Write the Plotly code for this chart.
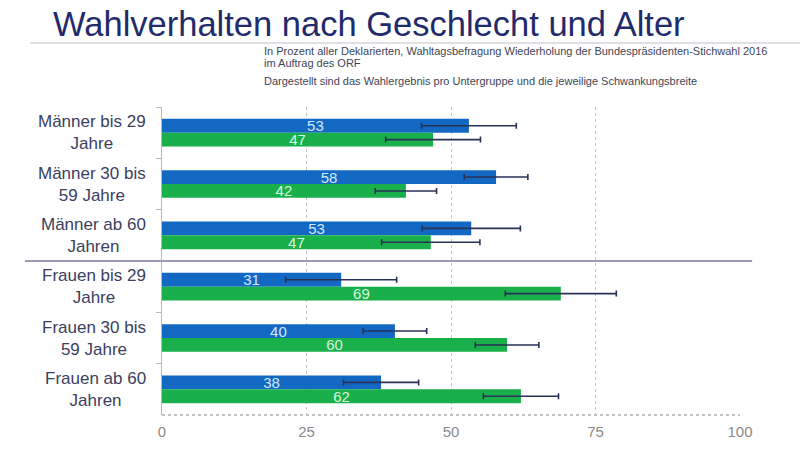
import plotly.graph_objects as go

categories = [
    "Männer bis 29<br>Jahre",
    "Männer 30 bis<br>59 Jahre",
    "Männer ab 60<br>Jahren",
    "Frauen bis 29<br>Jahre",
    "Frauen 30 bis<br>59 Jahre",
    "Frauen ab 60<br>Jahren",
]
blue_values = [53.1, 57.8, 53.5, 31.0, 40.3, 37.9]
green_values = [46.9, 42.2, 46.5, 69.0, 59.7, 62.1]
blue_labels = ["53", "58", "53", "31", "40", "38"]
green_labels = ["47", "42", "47", "69", "60", "62"]
blue_err = [8.2, 5.5, 8.5, 9.6, 5.5, 6.5]
green_err = [8.2, 5.3, 8.5, 9.6, 5.5, 6.5]
x_ticks = [0, 25, 50, 75, 100]

FONT = "Liberation Sans, Arial, sans-serif"
BLUE = "#1268c2"
GREEN = "#19b04b"
ERR = "#2a3157"

fig = go.Figure()
fig.add_trace(go.Bar(
    y=categories, x=blue_values, orientation="h", marker=dict(color=BLUE, line=dict(width=0)),
    text=blue_labels, textposition="inside", insidetextanchor="middle", textangle=0,
    textfont=dict(color="#d2e8ff", size=15, family=FONT),
    error_x=dict(type="data", array=blue_err, color=ERR, thickness=1.6, width=3),
    showlegend=False,
))
fig.add_trace(go.Bar(
    y=categories, x=green_values, orientation="h", marker=dict(color=GREEN, line=dict(width=0)),
    text=green_labels, textposition="inside", insidetextanchor="middle", textangle=0,
    textfont=dict(color="#d6f6dd", size=15, family=FONT),
    error_x=dict(type="data", array=green_err, color=ERR, thickness=1.6, width=3),
    showlegend=False,
))

label_annotations = [
    dict(text=c, xref="paper", yref="y", x=-0.024, y=c, xanchor="right", yanchor="middle",
         align="center", showarrow=False, font=dict(size=17, color="#3b4060", family=FONT))
    for c in categories
]

fig.update_layout(
    width=800, height=452,
    margin=dict(l=162, r=60, t=107, b=31),
    paper_bgcolor="white", plot_bgcolor="white",
    barmode="group", bargap=0.46, bargroupgap=0,
    uniformtext=dict(minsize=15, mode="show"),
    font=dict(family=FONT),
    xaxis=dict(
        range=[0, 100], tickvals=x_ticks, showgrid=True, griddash="dot",
        gridcolor="#c4c4c4", gridwidth=1, zeroline=False, showline=False,
        tickfont=dict(size=15, color="#8a8a8a", family=FONT), ticks="", ticklabelstandoff=6,
    ),
    yaxis=dict(
        type="category", autorange="reversed", showgrid=False, zeroline=False,
        showline=True, linecolor="#b8b8b8", linewidth=1, showticklabels=False,
        ticks="outside", tickson="boundaries", ticklen=5, tickcolor="#b8b8b8",
    ),
    shapes=[
        dict(type="line", xref="x", yref="paper", x0=0, x1=100, y0=0, y1=0,
             line=dict(color="#b0b0b0", width=1.5, dash="dot")),
        dict(type="line", xref="paper", yref="y", x0=-0.237, x1=1.021, y0=2.5, y1=2.5,
             line=dict(color="#9a9db2", width=2)),
        dict(type="line", xref="paper", yref="paper", x0=-0.228, x1=1.104, y0=1.208, y1=1.208,
             line=dict(color="#e0e0e4", width=2)),
    ],
    annotations=label_annotations + [
        dict(text="Wahlverhalten nach Geschlecht und Alter", xref="paper", yref="paper",
             x=-0.192, y=1.27, xanchor="left", yanchor="middle", showarrow=False,
             font=dict(size=34.5, color="#1f2b6b", family=FONT)),
        dict(text="In Prozent aller Deklarierten, Wahltagsbefragung Wiederholung der Bundespräsidenten-Stichwahl 2016",
             xref="paper", yref="paper", x=0.173, y=1.182, xanchor="left", yanchor="middle",
             showarrow=False, font=dict(size=11, color="#404558", family=FONT)),
        dict(text="im Auftrag des ORF",
             xref="paper", yref="paper", x=0.173, y=1.143, xanchor="left", yanchor="middle",
             showarrow=False, font=dict(size=11, color="#404558", family=FONT)),
        dict(text="Dargestellt sind das Wahlergebnis pro Untergruppe und die jeweilige Schwankungsbreite",
             xref="paper", yref="paper", x=0.173, y=1.086, xanchor="left", yanchor="middle",
             showarrow=False, font=dict(size=11, color="#404558", family=FONT)),
    ],
)

fig.write_html("out.html")
